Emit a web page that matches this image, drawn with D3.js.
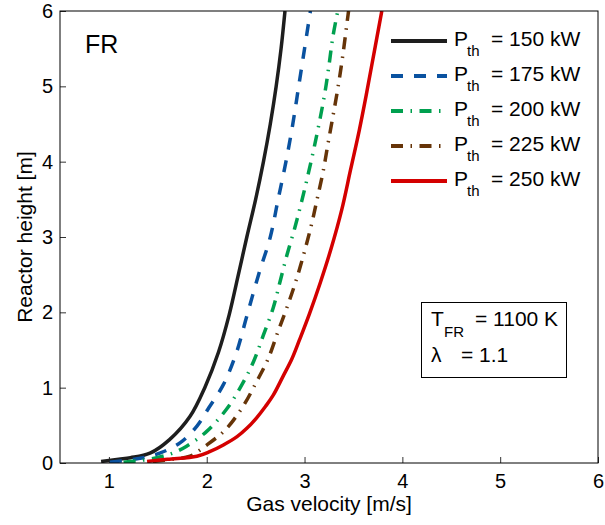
<!DOCTYPE html>
<html><head><meta charset="utf-8">
<script src="https://cdn.jsdelivr.net/npm/d3@7"></script>
<style>
body{margin:0;background:#fff;}
text{font-family:"Liberation Sans",Arial,Helvetica,sans-serif;fill:#000;}
</style></head>
<body>
<svg id="c" width="605" height="525"></svg>
<script>
// ---- data ----
const xTicks = [1,2,3,4,5,6];
const yTicks = [0,1,2,3,4,5,6];
const seriesLabels = ["150 kW","175 kW","200 kW","225 kW","250 kW"];
const p150 = [[0.92,0.02],[1.1,0.05],[1.22,0.07],[1.42,0.13],[1.62,0.31],[1.83,0.62],[1.98,1.0],[2.12,1.47],[2.23,1.97],[2.32,2.48],[2.41,3.0],[2.5,3.5],[2.58,4.0],[2.65,4.5],[2.71,5.0],[2.76,5.5],[2.80,6.0]];
const p175 = [[1.01,0.01],[1.2,0.04],[1.35,0.07],[1.52,0.13],[1.73,0.27],[1.9,0.49],[2.02,0.73],[2.17,1.04],[2.3,1.45],[2.41,1.95],[2.53,2.5],[2.65,3.0],[2.73,3.5],[2.81,4.0],[2.88,4.5],[2.94,5.0],[3.0,5.5],[3.06,6.0]];
const p200 = [[1.15,0.01],[1.3,0.03],[1.49,0.07],[1.65,0.13],[1.79,0.22],[2.0,0.42],[2.2,0.71],[2.36,1.04],[2.48,1.35],[2.58,1.70],[2.68,2.06],[2.75,2.41],[2.82,2.76],[2.9,3.12],[2.97,3.47],[3.04,3.85],[3.1,4.2],[3.16,4.58],[3.21,4.93],[3.25,5.28],[3.29,5.66],[3.34,6.0]];
const p225 = [[1.45,0.02],[1.65,0.05],[1.83,0.09],[1.98,0.22],[2.19,0.44],[2.37,0.75],[2.51,1.08],[2.63,1.39],[2.73,1.75],[2.83,2.1],[2.92,2.45],[3.0,2.81],[3.07,3.16],[3.13,3.51],[3.19,3.87],[3.24,4.24],[3.29,4.6],[3.34,4.97],[3.39,5.4],[3.43,5.8],[3.45,6.0]];
const p250 = [[1.39,0.02],[1.6,0.05],[1.9,0.09],[2.03,0.15],[2.17,0.24],[2.31,0.35],[2.41,0.46],[2.51,0.6],[2.6,0.75],[2.68,0.9],[2.78,1.15],[2.87,1.38],[2.95,1.64],[3.05,1.98],[3.16,2.39],[3.27,2.84],[3.38,3.36],[3.47,3.89],[3.56,4.42],[3.63,4.88],[3.69,5.3],[3.74,5.65],[3.79,6.0]];

// ---- styling ----
const colors = ["#1e1e1e","#0a52a0","#00a04f","#663408","#d40000"];
const dashes = [null,"12,11","12,7.5,1.5,7.5","12,7.5,1.5,7.5",null];
const allSeries = [p150,p175,p200,p225,p250];

const svg = d3.select("#c");
const L=60,R=598,T=11,B=463;
const x = d3.scaleLinear().domain([0.5,6]).range([L,R]);
const y = d3.scaleLinear().domain([0,6]).range([B,T]);

svg.append("defs").append("clipPath").attr("id","clip")
  .append("rect").attr("x",L).attr("y",T).attr("width",R-L).attr("height",B-T);

// axes
const xa = svg.append("g").attr("transform",`translate(0,${B})`)
  .call(d3.axisBottom(x).tickValues(xTicks).tickFormat(d3.format("d")).tickSizeInner(-6).tickSizeOuter(0).tickPadding(11));
const ya = svg.append("g").attr("transform",`translate(${L},0)`)
  .call(d3.axisLeft(y).tickValues(yTicks).tickFormat(d3.format("d")).tickSizeInner(-6).tickSizeOuter(0).tickPadding(7));
[xa,ya].forEach(a=>{
  a.select(".domain").remove();
  a.selectAll("text").style("font-size","20px").style("font-family","'Liberation Sans',Arial,sans-serif").attr("fill","#000");
  a.selectAll("line").attr("stroke","#333");
});

// lines
const line = d3.line().x(d=>x(d[0])).y(d=>y(d[1])).curve(d3.curveCatmullRom.alpha(0.5));
const g = svg.append("g").attr("clip-path","url(#clip)");
allSeries.forEach((s,i)=>{
  g.append("path").datum(s).attr("d",line).attr("fill","none")
    .attr("stroke",colors[i]).attr("stroke-width",3.5)
    .attr("stroke-dasharray",dashes[i]).attr("stroke-linejoin","round");
});

// box
svg.append("rect").attr("x",L).attr("y",T).attr("width",R-L).attr("height",B-T)
  .attr("fill","none").attr("stroke","#000").attr("stroke-width",1);

// FR label
svg.append("text").attr("x",85).attr("y",53).style("font-size","25px").text("FR");

// legend
seriesLabels.forEach((lab,i)=>{
  const ly = 41 + 35*i;
  svg.append("line").attr("x1",391).attr("x2",447).attr("y1",ly).attr("y2",ly)
    .attr("stroke",colors[i]).attr("stroke-width",4).attr("stroke-dasharray",dashes[i]);
  svg.append("text").attr("x",454).attr("y",ly+5).style("font-size","21px").text("P");
  svg.append("text").attr("x",467).attr("y",ly+15).style("font-size","15px").text("th");
  svg.append("text").attr("x",491).attr("y",ly+5).style("font-size","21px").text("= "+lab);
});

// annotation box
svg.append("rect").attr("x",421.5).attr("y",302.5).attr("width",145).attr("height",75)
  .attr("fill","#fff").attr("stroke","#000").attr("stroke-width",1);
svg.append("text").attr("x",431).attr("y",326).style("font-size","21px").text("T");
svg.append("text").attr("x",444).attr("y",337).style("font-size","15px").text("FR");
svg.append("text").attr("x",475).attr("y",326).style("font-size","21px").text("= 1100 K");
svg.append("text").attr("x",431).attr("y",362).style("font-size","21px").text("λ");
svg.append("text").attr("x",461).attr("y",362).style("font-size","21px").text("= 1.1");

// axis titles
svg.append("text").attr("x",329).attr("y",511).attr("text-anchor","middle").style("font-size","21px").text("Gas velocity [m/s]");
svg.append("text").attr("transform","translate(32,237) rotate(-90)").attr("text-anchor","middle").style("font-size","21px").text("Reactor height [m]");
</script>
</body></html>
